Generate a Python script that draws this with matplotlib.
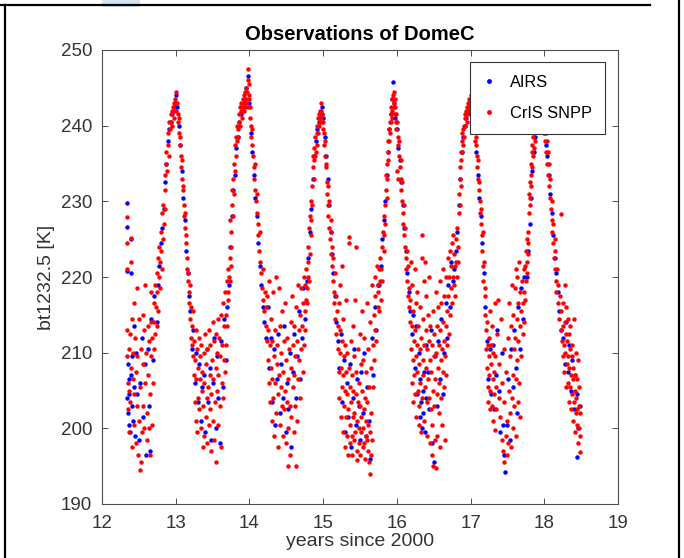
import matplotlib
matplotlib.use('Agg')
import matplotlib.pyplot as plt
import numpy as np
from matplotlib.lines import Line2D
from matplotlib.patches import Rectangle

plt.rcParams['font.family'] = ['Liberation Sans', 'DejaVu Sans']

# (years since 2000, bt1232.5 [K]), one list per season
cris_w12 = [(12.335, 227.9), (12.335, 224.5), (12.34, 221.0), (12.34, 213.0), (12.345, 209.5), (12.35, 206.0),
            (12.35, 202.5), (12.36, 210.5), (12.37, 205.0), (12.37, 199.5), (12.38, 212.5), (12.385, 203.5),
            (12.39, 208.0), (12.40, 225.2), (12.40, 222.0), (12.405, 214.5), (12.41, 197.5), (12.415, 206.5),
            (12.42, 210.0), (12.43, 216.5), (12.435, 200.5), (12.44, 204.5), (12.45, 212.0), (12.455, 198.0),
            (12.46, 207.5), (12.47, 203.0), (12.475, 218.5), (12.48, 209.5), (12.49, 196.5), (12.50, 201.0),
            (12.50, 214.5), (12.51, 205.5), (12.52, 194.5), (12.525, 195.5), (12.53, 210.5), (12.54, 199.5),
            (12.55, 215.0), (12.555, 203.0), (12.56, 208.5), (12.57, 213.0), (12.575, 200.0), (12.58, 206.0),
            (12.59, 219.0), (12.60, 210.0), (12.605, 202.0), (12.61, 198.5), (12.62, 213.5), (12.63, 207.0),
            (12.635, 200.0), (12.64, 211.5), (12.65, 196.5), (12.655, 204.5), (12.66, 214.0), (12.665, 218.0),
            (12.67, 209.5), (12.68, 200.5), (12.685, 212.0), (12.69, 206.0), (12.70, 216.5), (12.705, 210.5),
            (12.71, 214.0), (12.72, 219.0), (12.725, 212.5)]
cris_p13 = [(12.735, 216.0), (12.74, 220.5), (12.745, 213.5), (12.75, 218.0), (12.76, 222.5), (12.765, 215.5),
            (12.77, 220.0), (12.78, 224.0), (12.785, 218.5), (12.79, 222.0), (12.80, 226.0), (12.805, 223.5),
            (12.81, 221.0), (12.82, 228.5), (12.825, 225.0), (12.83, 229.5), (12.84, 227.0), (12.85, 231.5),
            (12.855, 229.0), (12.86, 233.5), (12.87, 235.0), (12.875, 236.5), (12.88, 234.0), (12.89, 237.5),
            (12.90, 239.0), (12.905, 236.0), (12.91, 240.5), (12.92, 239.5), (12.93, 241.5), (12.94, 240.5),
            (12.95, 242.0), (12.955, 240.0), (12.96, 242.5), (12.97, 241.0), (12.975, 243.0), (12.98, 242.0),
            (12.99, 243.5), (13.00, 244.5), (13.005, 243.0), (13.01, 242.0), (13.02, 243.0), (13.025, 241.5),
            (13.03, 240.5), (13.04, 241.0), (13.05, 239.0), (13.055, 237.5), (13.06, 238.5), (13.07, 236.0),
            (13.075, 234.5), (13.08, 235.5), (13.09, 233.0), (13.095, 231.5), (13.10, 232.0), (13.11, 229.5),
            (13.115, 228.0), (13.12, 226.5), (13.13, 228.5), (13.135, 224.5), (13.14, 225.5), (13.15, 222.5),
            (13.155, 221.0), (13.16, 219.5), (13.17, 220.5), (13.175, 218.0), (13.18, 216.5), (13.19, 219.0),
            (13.20, 214.5), (13.205, 212.0), (13.21, 216.0), (13.22, 211.0), (13.225, 213.5), (13.23, 209.5)]
cris_w13 = [(13.24, 215.5), (13.245, 207.0), (13.25, 211.5), (13.255, 203.5), (13.26, 209.0), (13.27, 213.0),
            (13.275, 201.0), (13.28, 206.5), (13.29, 210.5), (13.295, 199.5), (13.30, 208.0), (13.305, 204.0),
            (13.31, 212.0), (13.32, 202.5), (13.325, 206.5), (13.33, 209.5), (13.34, 200.0), (13.345, 211.0),
            (13.35, 205.0), (13.36, 207.5), (13.365, 197.5), (13.37, 203.0), (13.38, 210.0), (13.385, 199.0),
            (13.39, 206.0), (13.40, 212.5), (13.405, 201.5), (13.41, 208.5), (13.42, 204.0), (13.425, 210.5),
            (13.43, 198.0), (13.44, 205.5), (13.445, 213.0), (13.45, 200.5), (13.46, 207.0), (13.465, 202.5),
            (13.47, 211.0), (13.48, 197.0), (13.485, 204.5), (13.49, 209.0), (13.50, 214.0), (13.505, 201.0),
            (13.51, 206.5), (13.52, 211.5), (13.525, 198.5), (13.53, 203.5), (13.54, 208.0), (13.545, 212.5),
            (13.55, 195.5), (13.555, 205.0), (13.56, 210.0), (13.57, 214.5), (13.575, 200.5), (13.58, 207.0),
            (13.59, 212.0), (13.60, 203.0), (13.605, 209.5), (13.61, 215.0), (13.62, 197.5), (13.625, 206.0),
            (13.63, 211.0), (13.64, 216.5), (13.645, 204.0), (13.65, 209.0), (13.66, 213.5), (13.665, 218.0),
            (13.67, 207.5), (13.68, 215.0), (13.685, 211.0), (13.69, 219.5), (13.70, 213.5), (13.705, 217.0)]
cris_p14 = [(13.71, 221.0), (13.715, 218.0), (13.72, 220.0), (13.73, 222.5), (13.735, 219.5), (13.74, 227.5),
            (13.745, 224.0), (13.75, 221.5), (13.755, 226.0), (13.76, 229.5), (13.77, 231.5), (13.775, 228.0),
            (13.78, 233.0), (13.79, 231.0), (13.795, 235.0), (13.80, 234.0), (13.81, 237.5), (13.815, 236.0),
            (13.82, 238.5), (13.83, 240.0), (13.835, 238.0), (13.84, 239.5), (13.85, 238.5), (13.855, 240.5),
            (13.86, 241.5), (13.87, 240.0), (13.875, 242.5), (13.88, 242.0), (13.89, 243.0), (13.895, 241.0),
            (13.90, 242.5), (13.91, 243.5), (13.92, 242.0), (13.925, 244.0), (13.93, 243.0), (13.94, 242.5),
            (13.945, 244.5), (13.95, 243.5), (13.955, 245.0), (13.96, 243.0), (13.97, 244.5), (13.975, 242.5),
            (13.98, 246.0), (13.985, 247.5), (13.99, 245.5), (13.995, 243.5), (14.00, 244.0), (14.005, 242.5),
            (14.01, 241.0), (14.02, 240.0), (14.025, 238.5), (14.03, 239.5), (14.04, 237.5), (14.05, 236.0),
            (14.06, 234.5), (14.065, 233.0), (14.07, 235.0), (14.08, 231.5), (14.09, 230.0), (14.10, 228.5),
            (14.105, 231.0), (14.11, 227.0), (14.12, 225.5), (14.13, 223.5), (14.14, 226.0), (14.15, 222.0),
            (14.16, 220.5), (14.17, 218.5), (14.18, 221.0), (14.19, 217.0), (14.20, 215.5), (14.21, 218.0),
            (14.22, 213.5), (14.23, 216.0), (14.24, 211.5)]
cris_w14 = [(14.245, 217.5), (14.25, 209.0), (14.255, 213.0), (14.26, 206.0), (14.27, 219.5), (14.275, 211.0),
            (14.28, 203.5), (14.29, 208.0), (14.295, 214.5), (14.30, 201.0), (14.305, 206.5), (14.31, 211.5),
            (14.32, 218.0), (14.325, 204.0), (14.33, 209.5), (14.34, 199.0), (14.345, 213.0), (14.35, 206.0),
            (14.36, 220.0), (14.365, 202.0), (14.37, 208.5), (14.38, 211.0), (14.385, 197.5), (14.39, 204.5),
            (14.40, 218.5), (14.405, 207.0), (14.41, 213.5), (14.42, 200.5), (14.425, 205.5), (14.43, 210.0),
            (14.44, 203.0), (14.445, 215.5), (14.45, 199.0), (14.46, 207.5), (14.465, 211.5), (14.47, 202.5),
            (14.48, 205.0), (14.485, 216.5), (14.49, 198.0), (14.50, 209.0), (14.505, 203.5), (14.51, 212.0),
            (14.52, 195.0), (14.525, 200.0), (14.53, 206.5), (14.54, 210.5), (14.545, 196.5), (14.55, 203.0),
            (14.56, 214.0), (14.565, 208.0), (14.57, 201.5), (14.58, 217.5), (14.585, 205.5), (14.59, 211.0),
            (14.60, 199.5), (14.605, 213.5), (14.61, 207.0), (14.62, 203.0), (14.625, 209.5), (14.63, 195.0),
            (14.635, 216.0), (14.64, 211.5), (14.65, 201.0), (14.655, 206.5), (14.66, 219.0), (14.67, 213.0),
            (14.675, 209.0), (14.68, 204.0), (14.69, 215.0), (14.70, 210.5), (14.705, 218.5), (14.71, 213.5),
            (14.72, 207.5), (14.73, 216.5), (14.74, 211.0), (14.745, 220.0)]
cris_p15 = [(14.75, 215.5), (14.755, 219.0), (14.76, 213.0), (14.765, 217.0), (14.77, 221.0), (14.775, 218.5),
            (14.78, 216.5), (14.79, 222.0), (14.795, 220.0), (14.80, 224.0), (14.805, 219.5), (14.81, 226.5),
            (14.815, 223.0), (14.82, 228.0), (14.83, 225.5), (14.835, 230.0), (14.84, 227.5), (14.85, 232.0),
            (14.855, 229.5), (14.86, 234.5), (14.865, 236.0), (14.87, 233.0), (14.875, 235.5), (14.88, 237.0),
            (14.89, 236.0), (14.895, 238.5), (14.90, 236.5), (14.91, 239.0), (14.915, 237.5), (14.92, 240.0),
            (14.93, 239.0), (14.935, 241.0), (14.94, 240.0), (14.95, 241.5), (14.955, 240.5), (14.96, 242.0),
            (14.965, 241.0), (14.97, 243.0), (14.975, 242.0), (14.98, 241.5), (14.985, 240.5), (14.99, 241.5),
            (14.995, 239.5), (15.00, 240.5), (15.01, 239.0), (15.015, 237.5), (15.02, 238.0), (15.03, 236.0),
            (15.035, 234.5), (15.04, 235.0), (15.05, 232.5), (15.055, 231.0), (15.06, 229.5), (15.065, 232.0),
            (15.07, 228.0), (15.08, 226.5), (15.085, 230.0), (15.09, 225.0), (15.10, 227.5), (15.105, 223.0),
            (15.11, 226.0), (15.12, 221.5), (15.125, 224.0), (15.13, 222.5), (15.14, 219.5), (15.145, 216.5),
            (15.15, 218.0), (15.16, 220.5), (15.165, 214.5), (15.17, 217.5), (15.18, 212.5), (15.19, 215.5),
            (15.20, 210.5)]
cris_w15 = [(15.205, 213.5), (15.21, 207.5), (15.215, 216.5), (15.22, 204.0), (15.225, 210.0), (15.23, 219.0),
            (15.235, 213.0), (15.24, 201.5), (15.245, 208.0), (15.25, 221.5), (15.255, 205.5), (15.26, 211.5),
            (15.265, 199.5), (15.27, 207.0), (15.275, 214.5), (15.28, 203.0), (15.285, 209.5), (15.29, 197.5),
            (15.295, 205.0), (15.30, 211.0), (15.305, 201.5), (15.31, 207.5), (15.315, 217.0), (15.32, 199.0),
            (15.325, 204.5), (15.33, 210.0), (15.335, 196.5), (15.34, 202.5), (15.345, 225.3), (15.35, 224.5),
            (15.355, 208.0), (15.36, 200.5), (15.365, 205.5), (15.37, 198.0), (15.375, 211.5), (15.38, 203.5),
            (15.385, 199.0), (15.39, 207.0), (15.395, 196.5), (15.40, 201.5), (15.405, 213.5), (15.41, 205.0),
            (15.415, 198.5), (15.42, 209.5), (15.425, 202.0), (15.43, 217.0), (15.435, 199.5), (15.44, 204.5),
            (15.445, 224.0), (15.45, 207.5), (15.455, 197.0), (15.46, 195.8), (15.465, 201.0), (15.47, 210.5),
            (15.475, 203.5), (15.48, 198.0), (15.485, 206.0), (15.49, 200.0), (15.495, 212.5), (15.50, 196.5),
            (15.505, 203.0), (15.51, 208.5), (15.515, 199.5), (15.52, 201.5), (15.525, 215.5), (15.53, 205.0),
            (15.535, 197.5), (15.54, 200.0), (15.545, 209.0), (15.55, 202.5), (15.555, 198.0), (15.56, 212.0),
            (15.565, 196.0), (15.57, 204.0), (15.575, 199.0), (15.58, 207.5), (15.585, 201.0), (15.59, 216.5),
            (15.595, 198.5), (15.60, 203.5), (15.605, 197.0), (15.61, 210.5), (15.615, 200.5), (15.62, 195.5),
            (15.625, 205.5), (15.63, 199.5), (15.635, 214.0), (15.64, 194.0), (15.645, 196.5), (15.65, 208.0),
            (15.655, 202.0), (15.66, 198.5), (15.665, 219.0), (15.67, 211.0), (15.68, 205.5), (15.685, 215.0),
            (15.69, 209.0), (15.70, 220.0), (15.705, 213.0), (15.71, 217.5), (15.72, 211.5), (15.73, 221.5),
            (15.74, 216.0), (15.745, 219.0)]
cris_p16 = [(15.75, 218.0), (15.755, 221.0), (15.76, 215.5), (15.77, 219.5), (15.775, 222.5), (15.78, 217.0),
            (15.79, 221.0), (15.80, 224.0), (15.805, 219.5), (15.81, 226.0), (15.82, 223.5), (15.825, 228.0),
            (15.83, 225.5), (15.835, 229.5), (15.84, 227.0), (15.85, 231.5), (15.855, 233.5), (15.86, 230.5),
            (15.865, 235.0), (15.87, 233.0), (15.875, 236.5), (15.88, 238.0), (15.885, 235.5), (15.89, 239.5),
            (15.90, 238.0), (15.905, 240.5), (15.91, 239.0), (15.915, 241.5), (15.92, 240.5), (15.925, 242.5),
            (15.93, 241.0), (15.935, 243.5), (15.94, 242.0), (15.945, 244.0), (15.955, 243.0), (15.96, 244.5),
            (15.965, 242.5), (15.97, 243.5), (15.975, 241.5), (15.98, 242.5), (15.985, 240.5), (15.99, 241.5),
            (15.995, 239.5), (16.00, 240.5), (16.005, 234.0), (16.01, 238.5), (16.015, 233.0), (16.02, 237.5),
            (16.03, 236.0), (16.035, 238.0), (16.04, 234.5), (16.05, 233.0), (16.055, 235.5), (16.06, 231.5),
            (16.07, 230.0), (16.075, 232.5), (16.08, 228.5), (16.09, 227.0), (16.095, 229.5), (16.10, 225.5),
            (16.11, 224.0), (16.115, 226.5), (16.12, 222.5), (16.13, 221.0), (16.135, 223.5), (16.14, 219.5),
            (16.15, 221.5), (16.155, 217.5), (16.16, 216.0), (16.17, 218.5), (16.18, 214.0)]
cris_w16 = [(16.185, 217.0), (16.19, 210.5), (16.195, 222.0), (16.20, 213.5), (16.205, 206.0), (16.21, 219.0),
            (16.215, 209.0), (16.22, 215.5), (16.225, 203.5), (16.23, 211.5), (16.235, 207.0), (16.24, 221.0),
            (16.245, 213.0), (16.25, 204.5), (16.255, 209.5), (16.26, 216.5), (16.265, 201.5), (16.27, 207.5),
            (16.275, 211.0), (16.28, 218.0), (16.285, 205.0), (16.29, 213.5), (16.295, 200.5), (16.30, 208.5),
            (16.305, 203.0), (16.31, 210.5), (16.315, 216.0), (16.32, 206.0), (16.325, 212.0), (16.33, 199.5),
            (16.335, 222.5), (16.34, 204.0), (16.345, 225.5), (16.35, 209.0), (16.355, 214.5), (16.36, 207.0),
            (16.365, 201.0), (16.37, 219.5), (16.375, 211.0), (16.38, 205.5), (16.385, 222.0), (16.39, 213.0),
            (16.395, 208.0), (16.40, 217.5), (16.405, 203.5), (16.41, 210.5), (16.415, 199.0), (16.42, 215.0),
            (16.425, 206.5), (16.43, 211.5), (16.435, 220.0), (16.44, 204.0), (16.445, 209.0), (16.45, 198.0),
            (16.455, 213.5), (16.46, 202.5), (16.465, 207.5), (16.47, 196.5), (16.475, 211.0), (16.48, 200.5),
            (16.485, 205.0), (16.49, 215.5), (16.495, 195.0), (16.50, 209.5), (16.505, 203.0), (16.51, 212.5),
            (16.515, 198.5), (16.52, 206.5), (16.525, 194.8), (16.53, 218.0), (16.535, 210.0), (16.54, 204.5),
            (16.545, 213.5), (16.55, 199.0), (16.555, 208.0), (16.56, 216.0), (16.565, 202.0), (16.57, 211.0),
            (16.575, 206.0), (16.58, 219.5), (16.585, 197.5), (16.59, 213.0), (16.595, 209.0), (16.60, 204.0),
            (16.605, 216.5), (16.61, 210.5), (16.615, 200.5), (16.62, 207.5), (16.625, 214.0), (16.63, 221.0),
            (16.635, 211.5), (16.64, 205.5), (16.645, 217.5), (16.65, 209.5), (16.655, 198.5), (16.66, 213.5),
            (16.665, 220.0), (16.67, 207.0), (16.68, 215.5), (16.685, 211.0), (16.69, 222.5), (16.70, 217.5),
            (16.705, 212.5), (16.71, 220.0), (16.72, 215.0), (16.725, 223.5), (16.73, 218.5), (16.74, 221.5),
            (16.745, 216.5), (16.75, 224.5), (16.76, 220.0), (16.765, 225.5)]
cris_p17 = [(16.77, 219.0), (16.78, 223.0), (16.785, 217.5), (16.79, 221.5), (16.80, 225.0), (16.805, 222.0),
            (16.81, 220.0), (16.82, 226.5), (16.825, 224.0), (16.83, 222.0), (16.84, 228.5), (16.845, 231.0),
            (16.85, 229.5), (16.855, 233.0), (16.86, 234.5), (16.865, 232.0), (16.87, 236.5), (16.875, 235.5),
            (16.88, 238.0), (16.885, 236.5), (16.89, 239.0), (16.895, 237.5), (16.90, 239.5), (16.905, 238.5),
            (16.91, 240.0), (16.92, 241.0), (16.925, 240.0), (16.93, 241.5), (16.94, 242.0), (16.945, 240.5),
            (16.95, 242.5), (16.96, 241.5), (16.965, 243.0), (16.97, 242.0), (16.98, 243.5), (16.99, 242.5),
            (17.00, 243.5), (17.01, 244.0), (17.02, 244.5), (17.03, 243.0), (17.04, 242.0), (17.05, 241.0),
            (17.06, 240.0), (17.065, 238.0), (17.07, 237.5), (17.08, 238.5), (17.085, 236.0), (17.09, 234.5),
            (17.10, 235.5), (17.105, 233.0), (17.11, 231.5), (17.12, 232.5), (17.125, 230.0), (17.13, 228.5),
            (17.14, 227.0), (17.145, 229.0), (17.15, 225.5), (17.16, 223.5), (17.165, 226.0), (17.17, 221.5),
            (17.175, 219.5), (17.18, 222.0), (17.19, 217.5), (17.195, 215.0), (17.20, 218.5), (17.21, 213.0),
            (17.215, 210.5), (17.22, 214.0), (17.225, 208.0), (17.23, 205.5), (17.235, 211.0), (17.24, 203.5)]
cris_w17 = [(17.245, 212.0), (17.25, 207.0), (17.255, 209.5), (17.26, 202.5), (17.265, 215.5), (17.27, 205.0),
            (17.275, 211.0), (17.28, 208.5), (17.285, 203.0), (17.29, 213.5), (17.30, 206.5), (17.305, 210.0),
            (17.31, 201.0), (17.315, 207.5), (17.32, 204.5), (17.325, 216.5), (17.33, 199.8), (17.335, 209.5),
            (17.34, 205.5), (17.35, 202.5), (17.36, 212.5), (17.37, 217.0), (17.38, 208.5), (17.385, 204.0),
            (17.40, 201.5), (17.41, 214.5), (17.42, 198.5), (17.43, 206.0), (17.44, 197.0), (17.45, 210.5),
            (17.455, 195.5), (17.46, 203.5), (17.48, 199.0), (17.485, 207.5), (17.49, 196.5), (17.50, 201.0),
            (17.505, 212.0), (17.51, 198.0), (17.52, 205.0), (17.525, 216.5), (17.53, 202.0), (17.54, 209.5),
            (17.545, 197.5), (17.55, 213.5), (17.56, 204.0), (17.565, 219.0), (17.57, 207.0), (17.575, 200.0),
            (17.58, 215.0), (17.585, 210.5), (17.59, 203.0), (17.60, 218.5), (17.605, 212.0), (17.61, 206.5),
            (17.615, 221.0), (17.62, 199.0), (17.625, 214.5), (17.63, 209.0), (17.635, 220.0), (17.64, 203.5),
            (17.645, 216.5), (17.65, 211.5), (17.655, 222.0), (17.66, 206.0), (17.665, 218.0), (17.67, 213.5),
            (17.675, 201.5), (17.68, 215.5), (17.69, 209.5), (17.70, 219.5), (17.705, 212.5), (17.71, 216.5),
            (17.72, 221.0), (17.725, 214.0), (17.73, 218.0)]
cris_p18 = [(17.74, 221.5), (17.745, 217.0), (17.75, 223.5), (17.755, 219.5), (17.76, 222.0), (17.765, 225.0),
            (17.77, 220.5), (17.775, 223.0), (17.78, 226.0), (17.785, 224.5), (17.79, 228.5), (17.795, 231.0),
            (17.80, 229.5), (17.805, 232.5), (17.81, 230.5), (17.815, 233.5), (17.82, 235.0), (17.825, 232.0),
            (17.83, 236.5), (17.835, 234.5), (17.84, 237.5), (17.845, 236.0), (17.85, 238.5), (17.86, 237.0),
            (17.865, 239.0), (17.87, 238.0), (17.88, 240.0), (17.89, 241.0), (17.90, 240.5), (17.91, 242.0),
            (17.92, 241.5), (17.93, 242.5), (17.94, 241.0), (17.95, 242.0), (17.96, 240.5), (17.97, 241.5),
            (17.98, 240.0), (17.99, 239.5), (18.00, 240.5), (18.01, 238.0), (18.02, 239.0), (18.03, 236.5),
            (18.035, 238.0), (18.04, 235.0), (18.05, 236.5), (18.055, 233.5), (18.06, 235.0), (18.07, 232.0),
            (18.075, 230.5), (18.08, 233.0), (18.09, 229.0), (18.10, 227.5), (18.105, 230.0), (18.11, 226.0),
            (18.12, 224.5), (18.125, 227.0), (18.13, 222.5), (18.14, 225.0), (18.145, 221.0), (18.15, 223.5),
            (18.16, 219.5), (18.165, 218.0), (18.17, 221.0), (18.18, 216.5), (18.19, 219.0), (18.20, 214.5),
            (18.21, 217.5), (18.22, 228.3), (18.225, 213.0), (18.23, 215.5), (18.24, 211.5)]
cris_w18 = [(18.25, 213.5), (18.255, 209.5), (18.26, 216.5), (18.265, 211.0), (18.27, 207.5), (18.275, 214.0),
            (18.28, 219.0), (18.285, 210.0), (18.29, 212.5), (18.295, 205.5), (18.30, 216.0), (18.305, 208.5),
            (18.31, 211.5), (18.315, 214.5), (18.32, 206.0), (18.325, 209.5), (18.33, 212.5), (18.335, 203.5),
            (18.34, 208.0), (18.345, 210.5), (18.35, 205.5), (18.355, 213.5), (18.36, 207.0), (18.365, 202.5),
            (18.37, 209.5), (18.375, 204.5), (18.38, 211.0), (18.385, 206.5), (18.39, 201.0), (18.395, 208.0),
            (18.40, 203.5), (18.405, 214.5), (18.41, 205.0), (18.415, 199.5), (18.42, 207.0), (18.425, 202.0),
            (18.43, 210.0), (18.435, 204.0), (18.44, 200.5), (18.445, 206.5), (18.45, 202.5), (18.455, 209.0),
            (18.46, 198.0), (18.465, 203.0), (18.47, 205.5), (18.475, 200.0), (18.48, 196.9), (18.485, 202.0),
            (18.49, 199.0)]

airs_w12 = [(12.335, 229.8), (12.335, 226.6), (12.34, 220.8), (12.345, 204.0), (12.35, 208.5), (12.355, 202.0),
            (12.36, 206.5), (12.365, 200.5), (12.37, 204.5), (12.38, 199.5), (12.39, 207.0), (12.40, 225.0),
            (12.40, 220.5), (12.405, 203.0), (12.41, 209.5), (12.42, 201.0), (12.43, 205.5), (12.44, 213.5),
            (12.45, 199.0), (12.46, 210.0), (12.48, 204.5), (12.50, 198.5), (12.52, 206.0), (12.54, 212.0),
            (12.56, 201.5), (12.58, 208.5), (12.60, 196.5), (12.62, 210.5), (12.64, 203.0), (12.65, 197.0),
            (12.67, 214.5), (12.69, 209.0), (12.71, 217.5)]
airs_p13 = [(12.74, 214.0), (12.76, 219.0), (12.78, 221.5), (12.80, 224.5), (12.82, 226.5), (12.84, 229.0),
            (12.86, 232.5), (12.875, 235.0), (12.89, 238.0), (12.91, 239.5), (12.93, 240.5), (12.95, 241.5),
            (12.97, 242.5), (12.99, 243.0), (13.00, 244.0), (13.02, 242.5), (13.04, 240.0), (13.06, 237.5),
            (13.08, 234.0), (13.10, 230.5), (13.12, 227.5), (13.14, 223.5), (13.16, 220.5), (13.18, 217.5),
            (13.20, 215.5), (13.22, 210.5)]
airs_w13 = [(13.24, 213.0), (13.26, 206.0), (13.28, 210.0), (13.30, 203.5), (13.32, 208.5), (13.34, 201.0),
            (13.36, 205.5), (13.38, 207.0), (13.40, 199.5), (13.42, 210.5), (13.44, 203.5), (13.46, 208.0),
            (13.48, 198.5), (13.50, 206.0), (13.52, 212.0), (13.54, 200.0), (13.56, 209.5), (13.58, 204.0),
            (13.60, 198.0), (13.62, 211.5), (13.64, 205.5), (13.66, 214.5), (13.68, 209.0), (13.70, 216.0)]
airs_p14 = [(13.72, 219.0), (13.74, 224.0), (13.76, 228.0), (13.78, 231.5), (13.80, 233.5), (13.82, 237.0),
            (13.84, 238.5), (13.86, 240.5), (13.88, 241.5), (13.90, 242.0), (13.92, 243.0), (13.94, 243.5),
            (13.96, 245.0), (13.98, 246.5), (14.00, 243.0), (14.02, 239.0), (14.04, 236.5), (14.06, 233.5),
            (14.08, 230.5), (14.10, 228.0), (14.12, 224.5), (14.14, 221.5), (14.16, 219.0), (14.18, 216.0),
            (14.20, 214.0), (14.22, 212.0)]
airs_w14 = [(14.25, 216.0), (14.27, 208.0), (14.29, 212.0), (14.31, 203.5), (14.33, 210.5), (14.35, 200.5),
            (14.37, 206.5), (14.39, 212.5), (14.41, 202.0), (14.43, 208.5), (14.45, 204.0), (14.47, 213.5),
            (14.49, 199.5), (14.51, 206.0), (14.53, 202.5), (14.55, 210.0), (14.57, 197.5), (14.59, 207.5),
            (14.61, 212.5), (14.63, 204.0), (14.65, 209.5), (14.67, 215.5), (14.69, 206.5), (14.71, 212.0),
            (14.73, 218.5)]
airs_p15 = [(14.76, 214.5), (14.78, 219.5), (14.80, 222.5), (14.82, 226.0), (14.84, 229.0), (14.86, 233.0),
            (14.88, 236.0), (14.90, 238.0), (14.92, 239.5), (14.94, 240.5), (14.96, 241.5), (14.98, 242.5),
            (15.00, 241.0), (15.02, 238.5), (15.04, 236.0), (15.06, 233.0), (15.08, 229.5), (15.10, 226.0),
            (15.12, 223.0), (15.14, 220.5), (15.16, 217.5), (15.18, 214.0), (15.20, 211.5)]
airs_w15 = [(15.22, 208.0), (15.24, 212.5), (15.26, 203.5), (15.28, 209.0), (15.30, 199.5), (15.32, 206.0),
            (15.34, 201.5), (15.36, 208.5), (15.38, 197.5), (15.40, 204.0), (15.42, 210.5), (15.44, 200.5),
            (15.46, 206.5), (15.48, 203.0), (15.50, 198.5), (15.52, 207.5), (15.54, 202.0), (15.56, 210.0),
            (15.58, 199.0), (15.60, 205.5), (15.62, 201.0), (15.64, 196.0), (15.66, 212.0), (15.68, 207.0),
            (15.70, 216.0), (15.72, 213.0), (15.74, 219.0)]
airs_p16 = [(15.76, 219.0), (15.78, 221.5), (15.80, 225.0), (15.82, 227.5), (15.84, 230.0), (15.86, 233.5),
            (15.88, 236.5), (15.90, 239.5), (15.92, 241.5), (15.94, 243.5), (15.95, 245.8), (15.96, 243.0),
            (15.98, 241.0), (16.00, 239.5), (16.02, 237.0), (16.04, 235.5), (16.06, 232.5), (16.08, 229.5),
            (16.10, 226.5), (16.12, 223.5), (16.14, 220.5), (16.16, 218.0), (16.18, 215.5)]
airs_w16 = [(16.20, 212.5), (16.22, 215.0), (16.24, 208.0), (16.26, 213.5), (16.28, 204.5), (16.30, 210.0),
            (16.31, 201.5), (16.32, 206.5), (16.33, 203.5), (16.34, 200.0), (16.35, 205.0), (16.36, 202.0),
            (16.37, 207.5), (16.38, 199.5), (16.39, 204.0), (16.40, 211.0), (16.42, 207.5), (16.44, 202.5),
            (16.46, 213.0), (16.48, 198.0), (16.50, 195.5), (16.52, 209.5), (16.54, 203.0), (16.56, 211.5),
            (16.58, 206.5), (16.60, 214.5), (16.62, 204.5), (16.64, 210.0), (16.66, 216.5), (16.68, 212.0),
            (16.70, 219.0), (16.72, 216.0), (16.74, 222.0), (16.76, 219.5)]
airs_p17 = [(16.78, 221.0), (16.80, 223.5), (16.82, 226.0), (16.84, 229.5), (16.86, 233.0), (16.88, 236.5),
            (16.90, 238.5), (16.92, 240.0), (16.94, 241.0), (16.96, 242.0), (16.98, 243.0), (17.00, 243.5),
            (17.02, 244.5), (17.04, 242.5), (17.06, 239.5), (17.08, 236.5), (17.10, 233.5), (17.12, 230.5),
            (17.14, 228.0), (17.16, 224.5), (17.18, 220.5), (17.20, 216.0), (17.22, 211.5), (17.24, 206.5)]
airs_w17 = [(17.26, 210.5), (17.28, 204.5), (17.30, 211.0), (17.32, 202.5), (17.34, 207.0), (17.36, 213.0),
            (17.38, 205.0), (17.40, 199.5), (17.42, 210.0), (17.44, 200.5), (17.46, 196.5), (17.47, 194.2),
            (17.49, 200.5), (17.51, 206.5), (17.53, 198.5), (17.55, 210.5), (17.57, 205.5), (17.59, 213.0),
            (17.61, 208.0), (17.63, 202.0), (17.65, 216.0), (17.67, 210.5), (17.69, 218.5), (17.71, 214.5),
            (17.73, 220.0)]
airs_p18 = [(17.76, 220.0), (17.78, 223.5), (17.80, 227.0), (17.82, 230.5), (17.84, 234.0), (17.86, 236.5),
            (17.88, 238.5), (17.90, 240.0), (17.92, 241.0), (17.94, 241.5), (17.96, 241.0), (17.98, 240.0),
            (18.00, 239.0), (18.02, 237.5), (18.04, 236.0), (18.06, 233.5), (18.08, 231.0), (18.10, 228.5),
            (18.12, 225.5), (18.14, 222.5), (18.16, 220.5), (18.18, 218.0), (18.20, 215.5), (18.22, 213.0)]
airs_w18 = [(18.26, 212.0), (18.28, 208.5), (18.30, 214.0), (18.32, 207.5), (18.34, 211.0), (18.36, 205.0),
            (18.38, 209.0), (18.40, 202.5), (18.42, 207.0), (18.44, 196.2), (18.45, 204.5), (18.46, 200.0),
            (18.48, 203.0)]

cris = np.array(cris_w12 + cris_p13 + cris_w13 + cris_p14 + cris_w14 + cris_p15 + cris_w15
                + cris_p16 + cris_w16 + cris_p17 + cris_w17 + cris_p18 + cris_w18)
airs = np.array(airs_w12 + airs_p13 + airs_w13 + airs_p14 + airs_w14 + airs_p15 + airs_w15
                + airs_p16 + airs_w16 + airs_p17 + airs_w17 + airs_p18 + airs_w18)

fig = plt.figure(figsize=(6.84, 5.58), dpi=100)
ax = fig.add_axes([102 / 684, 1 - 504 / 558, 516 / 684, 454 / 558])

ax.plot(airs[:, 0], airs[:, 1], 'o', color='b', markersize=3.2, markeredgewidth=0, label='AIRS')
ax.plot(cris[:, 0], cris[:, 1], 'o', color='r', markersize=3.2, markeredgewidth=0, label='CrIS SNPP')

ax.set_xlim(12, 19)
ax.set_ylim(190, 250)
ax.set_xticks(range(12, 20))
ax.set_yticks(range(190, 251, 10))
ax.tick_params(direction='in', top=True, right=True, length=4, width=0.6,
               labelsize=13.5, colors='0.2')
ax.tick_params(axis='x', pad=8)
ax.tick_params(axis='y', pad=7)
for s in ax.spines.values():
    s.set_color('0.3')
    s.set_linewidth(0.8)

ax.set_title('Observations of DomeC', fontsize=14.5, fontweight='bold', pad=7)
ax.set_xlabel('years since 2000', fontsize=14, color='0.2', labelpad=1)
ax.set_ylabel('bt1232.5 [K]', fontsize=14, color='0.2', labelpad=4)

leg = ax.legend(loc='upper right', bbox_to_anchor=(1 - 13 / 516, 1 - 12 / 454), fontsize=11.8,
                frameon=True, fancybox=False, framealpha=1, edgecolor='0.2',
                borderpad=0.8, labelspacing=0.95, handlelength=0.8, handletextpad=0.85, borderaxespad=0)
leg.get_frame().set_linewidth(0.8)
for h in leg.legend_handles:
    h.set_markersize(3.5)

# screenshot frame around the figure
fig.add_artist(Rectangle((102 / 684, 1 - 7 / 558), 38 / 684, 7 / 558, transform=fig.transFigure,
                         facecolor='#d3e4f3', edgecolor='none'))
fig.add_artist(Line2D([0, 650 / 684], [1 - 5 / 558] * 2, transform=fig.transFigure, color='k', lw=1.6))
fig.add_artist(Line2D([5 / 684] * 2, [0, 1 - 5 / 558], transform=fig.transFigure, color='k', lw=1.6))
fig.add_artist(Line2D([679 / 684] * 2, [0, 1], transform=fig.transFigure, color='k', lw=1.6))

fig.savefig('out.png', dpi=100)
